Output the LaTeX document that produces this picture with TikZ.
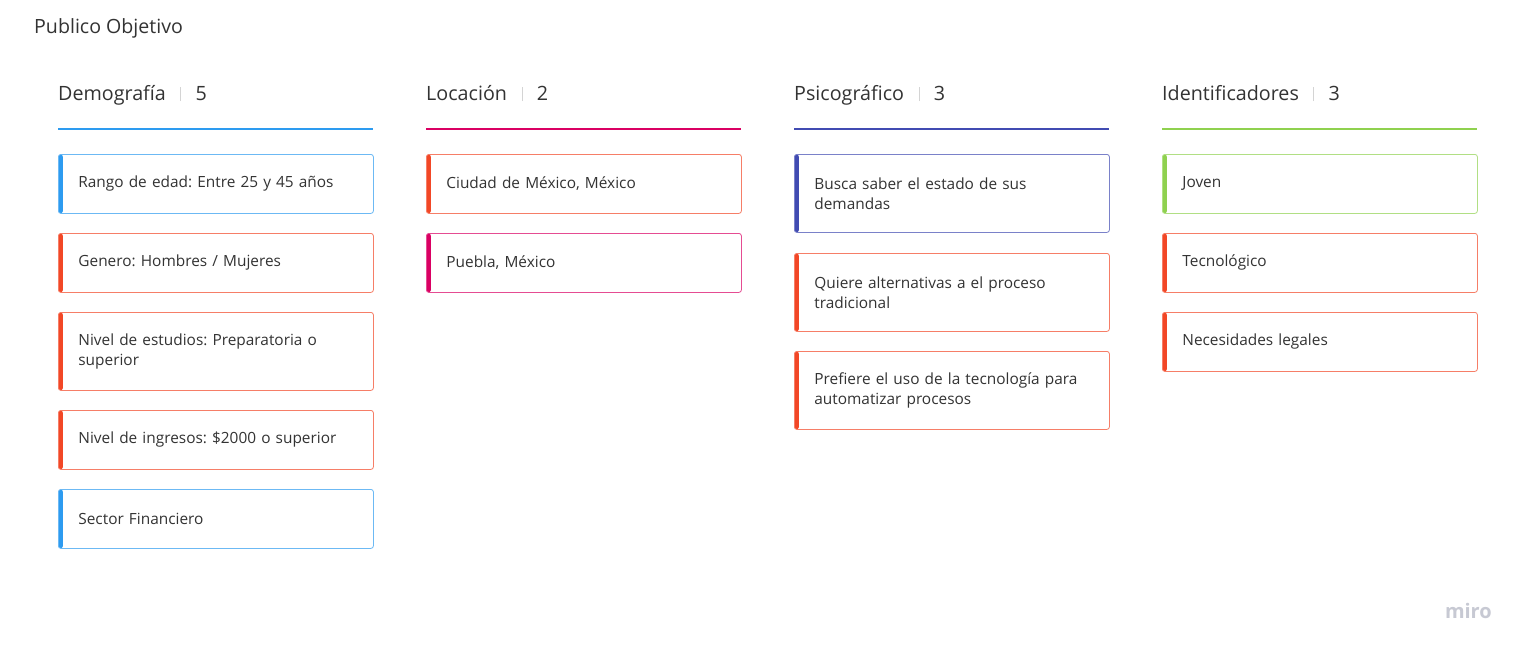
\documentclass[tikz,border=0pt]{standalone}
\usepackage{fontspec}
\setmainfont{Open Sans}
\usetikzlibrary{positioning}
\definecolor{mblue}{HTML}{2D9BF0}
\definecolor{mred}{HTML}{F24726}
\definecolor{mmag}{HTML}{DA0063}
\definecolor{mind}{HTML}{414BB2}
\definecolor{mgreen}{HTML}{8FD14F}
\definecolor{txt}{HTML}{333333}
\definecolor{sepgray}{HTML}{D4D4D4}
\definecolor{logo}{HTML}{C7C9D3}
\newcommand{\countsep}{\hspace{14.5pt}\textcolor{sepgray}{\rule[-1pt]{0.8pt}{14pt}}\hspace{14.5pt}}
\frenchspacing
\begin{document}
\begin{tikzpicture}
      [x=1pt,y=-1pt,%%%%%%%%%%%%%%%%%%%%%%%%%%%%%%
      card/.style={rectangle,rounded corners=2.5pt,draw=#1!70!white,line width=0.8pt,fill=white,
        minimum width=315pt,minimum height=59pt,text width=275pt,inner xsep=20pt,inner ysep=0pt,
        align=left,anchor=north west,text=txt,font=\fontsize{15.4}{20}\selectfont,
        path picture={\fill[#1] (path picture bounding box.north west) rectangle
          ([xshift=4.5pt]path picture bounding box.south west);}},
      tall/.style={minimum height=78pt},
      head/.style={anchor=base west,inner sep=0pt,text=txt,font=\fontsize{19.7}{22}\selectfont},
      rulebar/.style={line width=2pt},
      ]%%%%%%%%%%%%%%%%%%%%%%%%%%%%%%
      \fill[white] (0,0) rectangle (1527,654);
      \useasboundingbox (0,0) rectangle (1527,654);

      \node[anchor=base west,inner sep=0pt,text=txt,font=\fontsize{19.6}{22}\selectfont] (title) at (34,33) {Publico Objetivo};

      % column headers
      \node[head] (hdem) at (58,100) {Demografía\countsep 5};
      \node[head] (hloc) at (426,100) {Locación\countsep 2};
      \node[head] (hpsi) at (794,100) {Psicográfico\countsep 3};
      \node[head] (hide) at (1162,100) {Identificadores\countsep 3};

      \draw[rulebar,mblue] (58,129) -- (373,129);
      \draw[rulebar,mmag] (426,129) -- (741,129);
      \draw[rulebar,mind] (794,129) -- (1109,129);
      \draw[rulebar,mgreen] (1162,129) -- (1477,129);

      % Demografia
      \node[card=mblue] (d1) at (58,154) {Rango de edad: Entre 25 y 45 años};
      \node[card=mred] (d2) at (58,233) {Genero: Hombres / Mujeres};
      \node[card=mred,tall] (d3) at (58,312) {Nivel de estudios: Preparatoria o\\superior};
      \node[card=mred] (d4) at (58,410) {Nivel de ingresos: \$2000 o superior};
      \node[card=mblue] (d5) at (58,489) {Sector Financiero};

      % Locacion
      \node[card=mred] (l1) at (426,154) {Ciudad de México, México};
      \node[card=mmag] (l2) at (426,233) {Puebla, México};

      % Psicografico
      \node[card=mind,tall] (p1) at (794,154) {Busca saber el estado de sus\\demandas};
      \node[card=mred,tall] (p2) at (794,253) {Quiere alternativas a el proceso\\tradicional};
      \node[card=mred,tall] (p3) at (794,351) {Prefiere el uso de la tecnología para\\automatizar procesos};

      % Identificadores
      \node[card=mgreen] (i1) at (1162,154) {Joven};
      \node[card=mred] (i2) at (1162,233) {Tecnológico};
      \node[card=mred] (i3) at (1162,312) {Necesidades legales};

      \node[anchor=base east,inner sep=0pt,text=logo,font=\fontsize{20}{22}\selectfont\bfseries] (logo) at (1492,618) {miro};
    \end{tikzpicture}
\end{document}
